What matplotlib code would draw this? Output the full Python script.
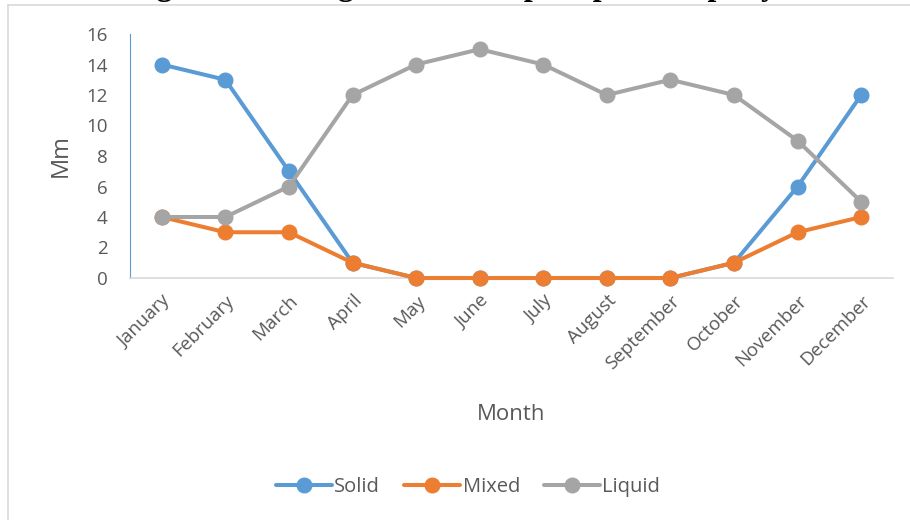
import matplotlib.pyplot as plt
from matplotlib.lines import Line2D

plt.rcParams["font.family"] = ["Open Sans", "DejaVu Sans"]

months = ["January", "February", "March", "April", "May", "June", "July",
          "August", "September", "October", "November", "December"]
solid = [14, 13, 7, 1, 0, 0, 0, 0, 0, 1, 6, 12]
mixed = [4, 3, 3, 1, 0, 0, 0, 0, 0, 1, 3, 4]
liquid = [4, 4, 6, 12, 14, 15, 14, 12, 13, 12, 9, 5]
y_ticks = [0, 2, 4, 6, 8, 10, 12, 14, 16]

# title is cut off at the top in the source, only the descenders show
title = "Figure 3. Average amount of precipitation per year"

series = [("Solid", solid, "#5B9BD5"),
          ("Mixed", mixed, "#ED7D31"),
          ("Liquid", liquid, "#A5A5A5")]

fig = plt.figure(figsize=(9.1, 5.2), dpi=100)
ax = fig.add_axes([130 / 910, 1 - 278 / 520, 763 / 910, 244 / 520])

x = range(len(months))
for z, (name, vals, color) in enumerate(series):
    ax.plot(x, vals, color=color, lw=2.9, marker="o", ms=10.5,
            solid_capstyle="round", label=name, zorder=3 + z, clip_on=False)

ax.set_xlim(-0.5, len(months) - 0.5)
ax.set_ylim(0, 16)
ax.set_yticks(y_ticks)
ax.set_xticks(list(x))
ax.set_xticklabels(months, rotation=45, ha="right", rotation_mode="anchor")
ax.tick_params(axis="both", length=0, labelsize=13.5, colors="#595959")
ax.tick_params(axis="x", pad=10)
ax.tick_params(axis="y", pad=16)

for s in ["top", "right"]:
    ax.spines[s].set_visible(False)
ax.spines["bottom"].set_color("#D9D9D9")
ax.spines["bottom"].set_linewidth(1.2)
ax.spines["left"].set_color("#5B9BD5")
ax.spines["left"].set_linewidth(0.8)

ax.set_ylabel("Mm", fontsize=17, color="#595959", labelpad=10)
fig.text(511 / 910, 1 - 415 / 520, "Month", fontsize=16, color="#595959",
         ha="center", va="center")

handles = [Line2D([0], [0], color=c, lw=2.9, marker="o", ms=10.5,
                  solid_capstyle="round") for _, _, c in series]
fig.legend(handles, [n for n, _, _ in series], loc="center",
           bbox_to_anchor=(468 / 910, 1 - 487 / 520), ncol=3, frameon=False,
           fontsize=14.5, labelcolor="#595959", handlelength=2.8,
           handletextpad=0.1, columnspacing=1.2)

# chart frame (only left and top edges are visible)
fig.add_artist(Line2D([8 / 910, 8 / 910], [0, 1 - 5 / 520],
                      transform=fig.transFigure, color="#D9D9D9", lw=1.2))
fig.add_artist(Line2D([8 / 910, 1], [1 - 5 / 520, 1 - 5 / 520],
                      transform=fig.transFigure, color="#D9D9D9", lw=1.2))

fig.text(475 / 910, 1 + 5 / 520, title, fontsize=23, fontweight="bold",
         family="Liberation Serif", ha="center", va="baseline")

fig.savefig("out.png", dpi=100)
